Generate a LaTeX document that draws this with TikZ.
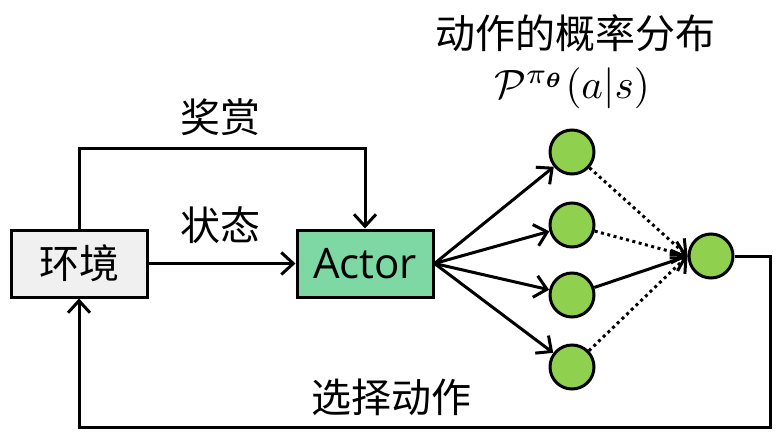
\documentclass[tikz,border=0pt]{standalone}
\usepackage{fontspec}
\usepackage{graphicx}
\usepackage{amsmath,bm}
\setmainfont{Noto Sans CJK SC}
\newfontfamily\latinsans{Open Sans}
\usetikzlibrary{arrows.meta}
\definecolor{envgray}{HTML}{F0F0F0}
\definecolor{actorgreen}{HTML}{7ED8A4}
\definecolor{ballgreen}{HTML}{8FD14F}
\tikzset{
  ln/.style={line width=3pt, draw=black},
  arr/.style={ln, -{Straight Barb[length=12pt,width=22pt]}},
  dotarr/.style={arr, dash pattern=on 3pt off 3.5pt},
  boxnode/.style={ln, rectangle, inner sep=0pt, minimum width=136pt, minimum height=67pt},
  ball/.style={ln, circle, fill=ballgreen, minimum size=44pt, inner sep=0pt},
  lbl/.style={font=\fontsize{40}{44}\selectfont, inner sep=0pt}
}
\begin{document}
\begin{tikzpicture}[x=1pt,y=-1pt]
\useasboundingbox[fill=white] (0,0) rectangle (783,441);
\node[boxnode, fill=envgray, font=\fontsize{40}{44}\selectfont] (env) at (79,263.5) {环境};
\node[boxnode, fill=actorgreen, font=\latinsans\fontsize{42}{46}\selectfont] (actor) at (365,263.5) {Actor};
\node[ball] (c1) at (572,152) {};
\node[ball] (c2) at (572,225) {};
\node[ball] (c3) at (572,295) {};
\node[ball] (c4) at (572,367) {};
\node[ball] (out) at (711,256) {};
\coordinate (br) at (770,427);
\node[lbl] (reward) at (220,117) {奖赏};
\node[lbl] (state) at (220,225) {状态};
\node[lbl] (choose) at (391,397) {选择动作};
\node[lbl] (title) at (575,33) {动作的概率分布};
\node[inner sep=0pt] (math) at (572,88) {\scalebox{4.1}{$\mathcal{P}^{\pi_{\bm\theta}}(a|s)$}};
\draw[arr] (env.north) -- ++(0,-80) -| (actor.north);
\draw[arr] (env.east) -- (actor.west);
\foreach \c in {c1,c2,c3,c4} \draw[arr] (actor.east) -- (\c);
\draw[dotarr] (c1) -- (out.west);
\draw[dotarr] (c2) -- (out.west);
\draw[arr] (c3) -- (out.west);
\draw[dotarr] (c4) -- (out.west);
\draw[arr] (out.east) -| (br) -| (env.south);
\end{tikzpicture}
\end{document}
